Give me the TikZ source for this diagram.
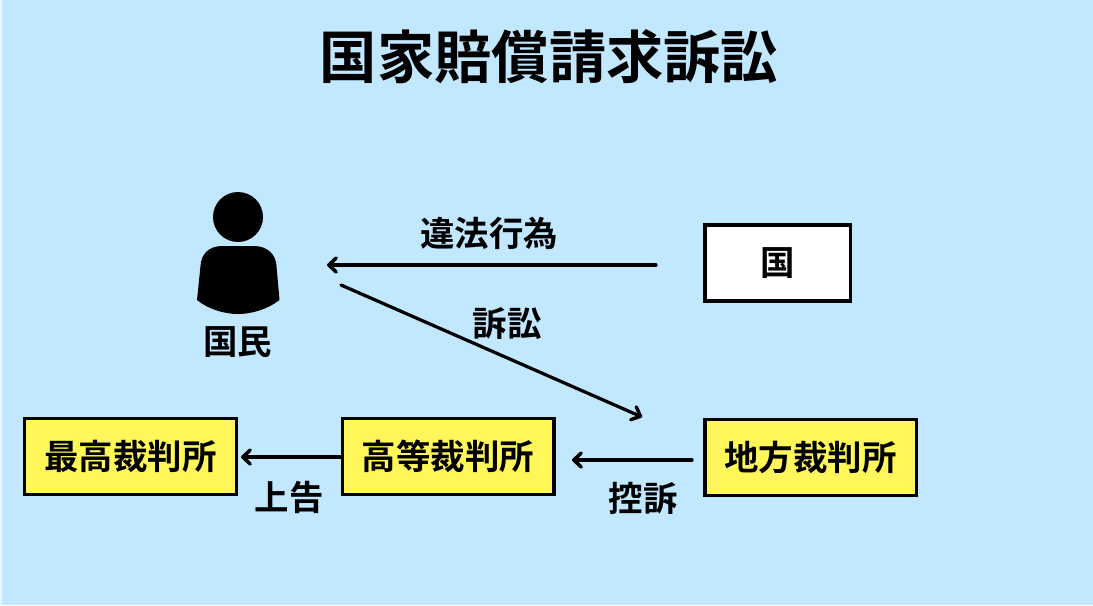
\documentclass[tikz,border=0pt]{standalone}
\usepackage{fontspec}
\setmainfont{Noto Sans CJK JP}[BoldFont={Noto Sans CJK JP Bold}]
\usetikzlibrary{arrows.meta}
\definecolor{skyback}{HTML}{C2E8FF}
\definecolor{courtyellow}{HTML}{FFF75A}
\tikzset{
	courtbox/.style={draw=black, line width=0.7mm, fill=courtyellow, minimum width=42.3mm, minimum height=15.2mm, inner sep=0pt, font=\fontsize{19.6pt}{22pt}\selectfont\bfseries},
	lawlabel/.style={inner sep=0pt, font=\fontsize{19.6pt}{22pt}\selectfont\bfseries},
	lawarrow/.style={line width=0.65mm, line cap=round, -{Straight Barb[length=1.5mm, width=2.8mm, line width=0.7mm, round]}}
}

\begin{document}
\begin{tikzpicture}[x=0.2mm, y=-0.2mm]
			%%%%% START %%%%%
			
			\fill[skyback!40!white] (0, 0) rectangle (2, 605);
			\fill[skyback] (2, 0) rectangle (1093, 605);
			\useasboundingbox (0, 0) rectangle (1093, 605);
			
			\node[inner sep=0pt, font=\fontsize{32.6pt}{36pt}\selectfont\bfseries] (title) at (549, 57) {国家賠償請求訴訟};
			
			\fill[black] (238, 217) circle (25);
			\fill[black] (222, 246) -- (254, 246) .. controls (268, 246) and (276, 255) .. (276.5, 266) -- (279.5, 300) .. controls (268, 309) and (252, 314) .. (238, 314) .. controls (224, 314) and (208, 309) .. (197, 300) -- (200.5, 266) .. controls (201, 255) and (208, 246) .. (222, 246) -- cycle;
			\node[lawlabel] (kokumin) at (237.5, 342) {国民};
			
			\node[courtbox, fill=white, minimum width=29.1mm] (kuni) at (777.5, 263) {国};
			\node[courtbox] (saikou) at (130.5, 456.5) {最高裁判所};
			\node[courtbox] (kousai) at (448, 456.5) {高等裁判所};
			\node[courtbox] (chisai) at (810.5, 457.5) {地方裁判所};
			
			\coordinate (ihoutip) at (327, 265);
			\coordinate (ihoustart) at (656, 265);
			\coordinate (soshostart) at (341, 285);
			\coordinate (soshotip) at (642, 417);
			\coordinate (kousostart) at (692, 460);
			\coordinate (kousotip) at (572, 460);
			\coordinate (joukokustart) at (342, 457);
			\coordinate (joukokutip) at (241, 457);
			
			\draw[lawarrow] (ihoustart) -- (ihoutip);
			\draw[lawarrow] (soshostart) -- (soshotip);
			\draw[lawarrow] (kousostart) -- (kousotip);
			\draw[lawarrow] (joukokustart) -- (joukokutip);
			
			\node[lawlabel] (ihou) at (489, 233) {違法行為};
			\node[lawlabel] (sosho) at (507, 324) {訴訟};
			\node[lawlabel] (joukoku) at (289, 497) {上告};
			\node[lawlabel] (kouso) at (643, 498) {控訴};
			
			%%%%% END %%%%%
		\end{tikzpicture}
\end{document}
